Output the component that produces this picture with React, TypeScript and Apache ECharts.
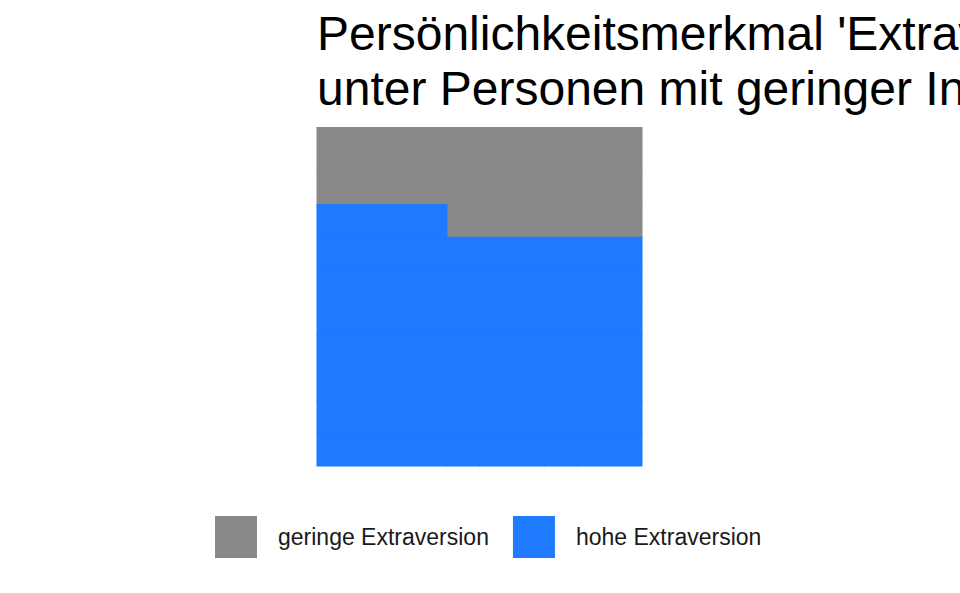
import React, { useEffect, useRef } from "react";
import * as echarts from "echarts";

const titleLines = [
  "Persönlichkeitsmerkmal 'Extraversion'",
  "unter Personen mit geringer Intelligenz",
];
const categories = ["geringe Extraversion", "hohe Extraversion"];
const counts = [26, 74];
const colors = ["#898989", "#1F7AFF"];
const gridCols = 10;
const gridRows = 10;

function buildCells() {
  // blue fills from bottom-left row by row; grey takes the rest
  const high: number[][] = [];
  const low: number[][] = [];
  let k = 0;
  for (let r = 0; r < gridRows; r++) {
    for (let c = 0; c < gridCols; c++) {
      if (k < counts[1]) high.push([c + 0.5, r + 0.5]);
      else low.push([c + 0.5, r + 0.5]);
      k++;
    }
  }
  return { low, high };
}

export default function App() {
  const ref = useRef<HTMLDivElement>(null);
  useEffect(() => {
    if (!ref.current) return;
    const chart = echarts.init(ref.current, null, { renderer: "svg" });
    const { low, high } = buildCells();
    const renderItem = (params: any, api: any) => {
      const p = api.coord([api.value(0), api.value(1)]);
      const s = api.size([1, 1]);
      let y0 = p[1] - s[1] / 2 - 0.5;
      const y1 = p[1] + s[1] / 2 + 0.5;
      // top row stretches up to the panel's top edge
      if (api.value(1) > gridRows - 1) y0 = params.coordSys.y;
      return {
        type: "rect",
        shape: {
          x: p[0] - s[0] / 2 - 0.5,
          y: y0,
          width: s[0] + 1,
          height: y1 - y0,
        },
        style: { fill: api.visual("color") },
      };
    };
    chart.setOption({
      animation: false,
      backgroundColor: "#ffffff",
      title: {
        text: titleLines.join("\n"),
        left: 312,
        top: 1,
        textStyle: {
          fontFamily: "Liberation Sans",
          fontSize: 48,
          lineHeight: 55,
          fontWeight: "normal",
          color: "#000000",
        },
      },
      legend: {
        left: 210,
        top: 511,
        itemWidth: 42,
        itemHeight: 42,
        itemGap: 24,
        icon: "rect",
        data: categories,
        textStyle: {
          fontFamily: "Liberation Sans",
          fontSize: 23,
          color: "#1a1a1a",
          padding: [0, 0, 0, 16],
        },
      },
      grid: { left: 317, top: 127, width: 325, height: 339 },
      xAxis: { type: "value", min: 0, max: gridCols, show: false },
      yAxis: { type: "value", min: 0, max: 10.37, show: false },
      series: [
        {
          name: categories[0],
          type: "custom",
          renderItem,
          itemStyle: { color: colors[0] },
          data: low,
        },
        {
          name: categories[1],
          type: "custom",
          renderItem,
          itemStyle: { color: colors[1] },
          data: high,
        },
      ],
    });
    return () => chart.dispose();
  }, []);
  return (
    <div
      ref={ref}
      style={{ position: "absolute", left: 0, top: 0, width: 960, height: 593 }}
    />
  );
}
